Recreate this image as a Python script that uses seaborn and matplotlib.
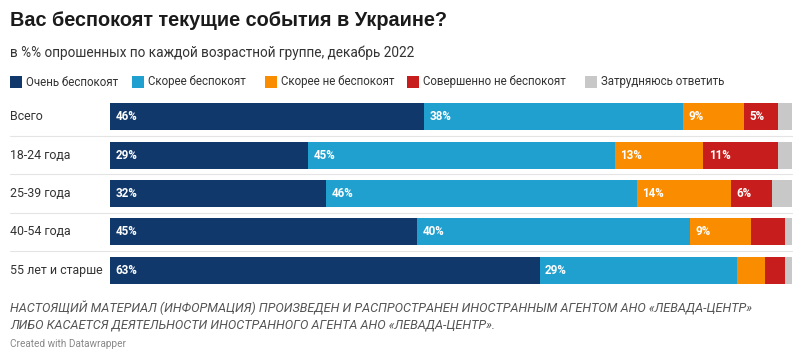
import numpy as np
import pandas as pd
import seaborn as sns
import matplotlib.pyplot as plt
from matplotlib.patches import Rectangle
from matplotlib.lines import Line2D

# Data (percent)
groups = ['Всего', '18-24 года', '25-39 года', '40-54 года', '55 лет и старше']
categories = ['Очень беспокоят', 'Скорее беспокоят', 'Скорее не беспокоят',
              'Совершенно не беспокоят', 'Затрудняюсь ответить']
very = [46, 29, 32, 45, 63]
rather = [38, 45, 46, 40, 29]
rather_not = [9, 13, 14, 9, 4]
not_at_all = [5, 11, 6, 5, 3]
dont_know = [2, 2, 3, 1, 1]
# which segments carry a value label (small ones are left blank)
show_label = [
    [True, True, True, True, False],
    [True, True, True, True, False],
    [True, True, True, True, False],
    [True, True, True, False, False],
    [True, True, False, False, False],
]

colors = ['#10386b', '#1fa0cf', '#fa8c00', '#c71e1d', '#c8c8c8']

df = pd.DataFrame(dict(zip(categories, [very, rather, rather_not, not_at_all, dont_know])),
                  index=groups)
# each bar fills the full width (rows are scaled to their own total)
share = df.div(df.sum(axis=1), axis=0) * 100
cum = share.cumsum(axis=1)

sns.set_theme(style='white')
plt.rcParams['font.family'] = ['Liberation Sans', 'DejaVu Sans']
label_font = ['Roboto', 'DejaVu Sans']

W, H = 800, 358
fig = plt.figure(figsize=(W / 100, H / 100), dpi=100)
fig.patch.set_facecolor('white')

# axes placed in pixel terms
top_px, bot_px = 97.75, 289.25
ax = fig.add_axes([110 / W, 1 - bot_px / H, 682 / W, (bot_px - top_px) / H])
row_h = (bot_px - top_px) / len(groups)

# thin separators between rows, across the whole chart width
for k in range(1, len(groups)):
    y = 1 - (top_px + k * row_h) / H
    fig.lines.append(Line2D([10 / W, 792 / W], [y, y], transform=fig.transFigure,
                            color='#e4e4e4', lw=0.8))

# stacked bars: draw cumulative totals from the last segment back to the first
for i in range(len(categories) - 1, -1, -1):
    d = pd.DataFrame({'group': groups, 'value': cum.iloc[:, i].values})
    sns.barplot(data=d, x='value', y='group', orient='h', color=colors[i],
                width=0.7, saturation=1, ax=ax, linewidth=0)

ax.set_xlim(0, 100)
ax.set_ylim(len(groups) - 0.5, -0.5)
ax.set_xlabel('')
ax.set_ylabel('')
ax.set_xticks([])
ax.set_yticks([])
ax.patch.set_alpha(0)
for s in ax.spines.values():
    s.set_visible(False)

# value labels
for r, g in enumerate(groups):
    for c, cat in enumerate(categories):
        if show_label[r][c]:
            start = cum.iloc[r, c] - share.iloc[r, c]
            ax.text(start + 0.8, r, f'{df.iloc[r, c]}%', color='white', fontsize=8.4,
                    fontweight='bold', va='center', ha='left', family=label_font)

# row labels
for r, g in enumerate(groups):
    y = top_px + (r + 0.5) * row_h
    fig.text(10 / W, 1 - y / H, g, fontsize=8.9, color='#333333', va='center', ha='left',
             family=label_font)

# title and subtitle
fig.text(10 / W, 1 - 20 / H, 'Вас беспокоят текущие события в Украине?', fontsize=14.3,
         fontweight='bold', color='#1a1a1a', va='center', ha='left')
fig.text(10 / W, 1 - 53 / H, 'в %% опрошенных по каждой возрастной группе, декабрь 2022',
         fontsize=9.8, color='#333333', va='center', ha='left', family=label_font)

# legend
leg_x = [10, 132, 265, 407, 585]
for x, cat, col in zip(leg_x, categories, colors):
    fig.patches.append(Rectangle((x / W, 1 - 88 / H), 12 / W, 12 / H, transform=fig.transFigure,
                                 facecolor=col, edgecolor='none'))
    fig.text((x + 16) / W, 1 - 82 / H, cat, fontsize=8.3, color='#333333', va='center',
             ha='left', family=label_font)

# footer
fig.text(10 / W, 1 - 308 / H,
         'НАСТОЯЩИЙ МАТЕРИАЛ (ИНФОРМАЦИЯ) ПРОИЗВЕДЕН И РАСПРОСТРАНЕН ИНОСТРАННЫМ АГЕНТОМ АНО «ЛЕВАДА-ЦЕНТР»',
         fontsize=9.1, style='italic', color='#555555', va='center', ha='left',
         family=label_font)
fig.text(10 / W, 1 - 325 / H,
         'ЛИБО КАСАЕТСЯ ДЕЯТЕЛЬНОСТИ ИНОСТРАННОГО АГЕНТА АНО «ЛЕВАДА-ЦЕНТР».',
         fontsize=9.1, style='italic', color='#555555', va='center', ha='left',
         family=label_font)
fig.text(10 / W, 1 - 344 / H, 'Created with Datawrapper', fontsize=7.2, color='#888888',
         va='center', ha='left', family=label_font)

fig.savefig('out.png', dpi=100, facecolor='white')
